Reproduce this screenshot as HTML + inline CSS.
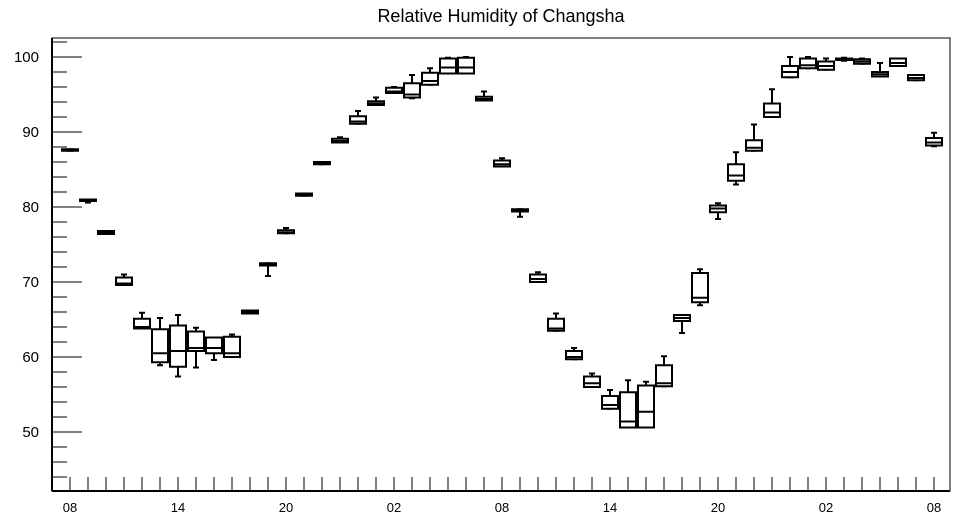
<!DOCTYPE html>
<html><head><meta charset="utf-8"><style>
html,body{margin:0;padding:0;background:#fff}
svg{display:block;font-family:"Liberation Sans",Arial,sans-serif}
</style></head><body>
<svg id="chart" width="957" height="520" xmlns="http://www.w3.org/2000/svg">
<text x="501" y="22" font-size="18" text-anchor="middle">Relative Humidity of Changsha</text>
<rect x="52" y="38" width="898" height="453" fill="none" stroke="#000" stroke-width="1"/>
<g id="axes"></g>
<g id="boxes"></g>
</svg>
<script>
const hourLabels = ["08","14","20","02","08","14","20","02","08"];
const yTicks = [50,60,70,80,90,100];
const mins =   [87.5,80.6,76.4,69.6,63.8,58.9,57.4,58.6,59.6,60.0,65.8,70.8,76.5,81.5,85.7,88.6,91.1,93.6,95.2,94.5,96.3,97.8,97.8,94.2,85.4,78.7,70.0,63.5,59.7,56.0,53.1,50.6,50.6,56.1,63.2,66.9,78.4,83.0,87.5,92.0,97.3,98.5,98.3,99.5,99.1,97.4,98.8,96.9,88.1];
const q1s =    [87.5,80.8,76.4,69.6,63.8,59.3,58.7,60.8,60.5,60.0,65.8,72.2,76.5,81.5,85.7,88.6,91.1,93.6,95.2,94.6,96.3,97.8,97.8,94.2,85.4,79.4,70.0,63.5,59.7,56.0,53.1,50.6,50.6,56.1,64.8,67.3,79.3,83.5,87.5,92.0,97.3,98.5,98.3,99.6,99.1,97.4,98.8,96.9,88.2];
const medians =[87.6,80.9,76.6,69.8,64.0,60.5,60.8,61.2,61.2,60.5,66.0,72.3,76.6,81.7,85.8,88.8,91.4,93.8,95.4,95.0,96.8,98.6,98.6,94.4,85.7,79.5,70.4,63.8,60.0,56.5,53.6,51.4,52.7,56.5,65.2,67.9,79.8,84.2,87.9,92.6,98.0,98.9,98.8,99.7,99.4,97.7,99.2,97.2,88.6];
const q3s =    [87.7,81.0,76.8,70.6,65.1,63.7,64.2,63.4,62.6,62.7,66.2,72.5,76.9,81.8,86.0,89.1,92.1,94.1,95.9,96.5,97.9,99.8,99.9,94.7,86.2,79.7,71.0,65.1,60.8,57.4,54.8,55.3,56.2,58.9,65.6,71.2,80.2,85.7,88.9,93.8,98.8,99.8,99.4,99.8,99.7,98.0,99.8,97.6,89.2];
const maxs =   [87.7,81.0,76.8,71.0,65.9,65.2,65.6,63.9,62.6,63.0,66.2,72.5,77.2,81.8,86.0,89.3,92.8,94.6,96.0,97.6,98.5,99.9,100.0,95.4,86.5,79.7,71.3,65.8,61.2,57.8,55.6,56.9,56.7,60.1,65.6,71.7,80.5,87.3,91.0,95.7,100.0,100.0,99.8,99.9,99.8,99.2,99.8,97.6,89.9];

const NS="http://www.w3.org/2000/svg";
const X0=70, PX_PER_HOUR=18, Y100=57, PX_PER_UNIT=7.5, LEFT=52, BOTTOM=491;
function xScale(i){return X0+i*PX_PER_HOUR;}
function yScale(v){return Y100+(100-v)*PX_PER_UNIT;}
function mk(tag,attrs,parent){const e=document.createElementNS(NS,tag);for(const k in attrs)e.setAttribute(k,attrs[k]);parent.appendChild(e);return e;}
const axes=document.getElementById('axes');
// y ticks
for(let v=44;v<=102;v+=2){
  const major=(v%10===0);
  const t=mk('line',{x1:LEFT,x2:LEFT+(major?30:15),y1:yScale(v),y2:yScale(v),stroke:'#000','stroke-width':1},axes);
  
  
}
yTicks.forEach(v=>{
  const t=mk('text',{x:39,y:yScale(v)+5,'font-size':15,'text-anchor':'end'},axes);
  t.textContent=String(v);
  
  
});
// x ticks
for(let i=0;i<mins.length;i++){
  const t=mk('line',{x1:xScale(i),x2:xScale(i),y1:BOTTOM,y2:BOTTOM-14,stroke:'#000','stroke-width':1},axes);
  
  
}
hourLabels.forEach((s,k)=>{
  const t=mk('text',{x:xScale(k*6),y:512,'font-size':13,'text-anchor':'middle'},axes);
  t.textContent=s;
  
  
});
mk('line',{x1:LEFT,x2:LEFT,y1:38,y2:BOTTOM,stroke:'#000','stroke-width':2},axes);
mk('line',{x1:LEFT,x2:950,y1:BOTTOM,y2:BOTTOM,stroke:'#000','stroke-width':2},axes);
// boxes
const boxes=document.getElementById('boxes');
const W=16;
for(let i=0;i<mins.length;i++){
  const g=mk('g',{stroke:'#000','stroke-width':2,fill:'none'},boxes);
  
  
  const cx=xScale(i);
  mk('line',{x1:cx,x2:cx,y1:yScale(maxs[i]),y2:yScale(q3s[i])},g);
  mk('line',{x1:cx,x2:cx,y1:yScale(q1s[i]),y2:yScale(mins[i])},g);
  mk('line',{x1:cx-3,x2:cx+3,y1:yScale(maxs[i]),y2:yScale(maxs[i])},g);
  mk('line',{x1:cx-3,x2:cx+3,y1:yScale(mins[i]),y2:yScale(mins[i])},g);
  const top=yScale(q3s[i]), bot=yScale(q1s[i]);
  mk('rect',{x:cx-W/2,y:top,width:W,height:Math.max(bot-top,1.5),fill:'#fff'},g);
  mk('line',{x1:cx-W/2,x2:cx+W/2,y1:yScale(medians[i]),y2:yScale(medians[i])},g);
}
</script>
</body></html>
